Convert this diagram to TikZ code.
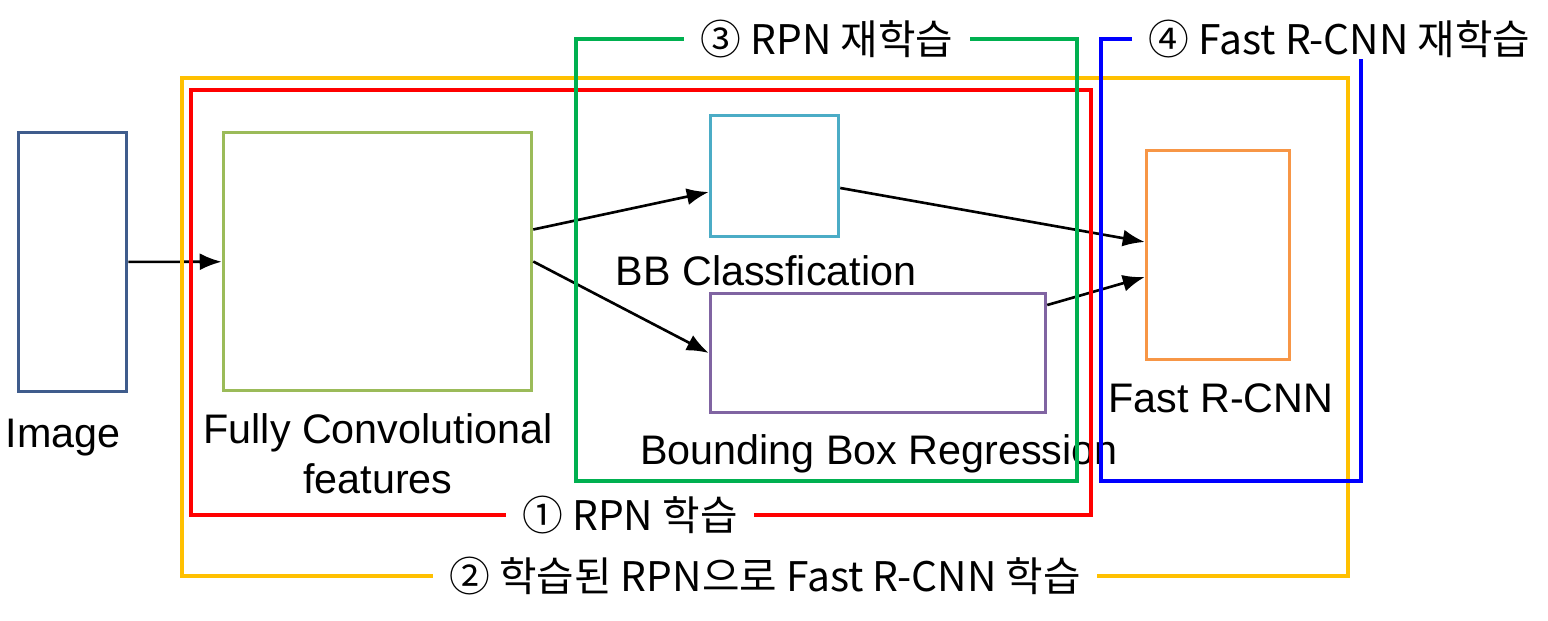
\documentclass[tikz,border=0pt]{standalone}
\usepackage{fontspec}
\setmainfont{Liberation Sans}
\newfontfamily\krfont{Noto Sans CJK KR}
\usetikzlibrary{arrows.meta}
\definecolor{image edge}{HTML}{3F5C8C}
\definecolor{conv edge}{HTML}{9BBB59}
\definecolor{cls edge}{HTML}{4BACC6}
\definecolor{reg edge}{HTML}{8064A2}
\definecolor{frcnn edge}{HTML}{F79646}
\definecolor{stage one}{HTML}{FF0000}
\definecolor{stage two}{HTML}{FFC000}
\definecolor{stage three}{HTML}{00B050}
\definecolor{stage four}{HTML}{0000FF}
\tikzset{box/.style={draw, line width=1pt, inner sep=0pt},
    caption/.style={anchor=base, align=center, font=\fontsize{11.75pt}{14.2pt}\selectfont},
    steplabel/.style={font=\krfont\fontsize{11.6pt}{13pt}\selectfont, inner xsep=1.6mm, inner ysep=0pt},
    frame/.style={line width=1.15pt},
    flow/.style={-{Latex[length=2.2mm,width=1.7mm]}, line width=0.75pt}}

\begin{document}
\begin{tikzpicture}
 \useasboundingbox (0,0) rectangle (15.48,-6.21);

 \node[box, draw=image edge, minimum width=1.08cm, minimum height=2.59cm] (img) at (0.725,-2.62) {};
 \node[box, draw=conv edge, minimum width=3.08cm, minimum height=2.58cm] (fcn) at (3.775,-2.615) {};
 \node[box, draw=cls edge, minimum width=1.28cm, minimum height=1.21cm] (cls) at (7.745,-1.76) {};
 \node[box, draw=reg edge, minimum width=3.35cm, minimum height=1.19cm] (reg) at (8.78,-3.53) {};
 \node[box, draw=frcnn edge, minimum width=1.43cm, minimum height=2.09cm] (frcnn) at (12.18,-2.55) {};

 \node[caption] (imgtext) at (0.63,-4.47) {Image};
 \node[caption] (fcntext) at (3.78,-4.93) {Fully Convolutional\\features};
 \node[caption] (clstext) at (7.66,-2.85) {BB Classfication};
 \node[caption] (regtext) at (8.79,-4.65) {Bounding Box Regression};
 \node[caption] (frcnntext) at (12.21,-4.13) {Fast R-CNN};

 \draw[flow] (img) -- (fcn);
 \draw[flow] ([yshift=3.2mm]fcn.east) -- ([yshift=-1.6mm]cls.west);
 \draw[flow] (fcn.east) -- (reg.west);
 \draw[flow] ([yshift=-1.2mm]cls.east) -- ([yshift=1.3mm]frcnn.west);
 \draw[flow] ([yshift=4.8mm]reg.east) -- ([yshift=-2.2mm]frcnn.west);

 \node[steplabel] (step1) at (6.30,-5.15) {① RPN 학습};
 \node[steplabel] (step2) at (7.65,-5.76) {② 학습된 RPN으로 Fast R-CNN 학습};
 \node[steplabel] (step3) at (8.27,-0.39) {③ RPN 재학습};
 \node[steplabel, anchor=west] (step4) at (11.32,-0.39) {④ Fast R-CNN 재학습};

 \draw[frame, stage two] (step2.west) -| (1.82,-0.78) -| (13.48,-5.76) -- (step2.east);
 \draw[frame, stage one] (step1.west) -| (1.91,-0.90) -| (10.91,-5.15) -- (step1.east);
 \draw[frame, stage three] (step3.west) -| (5.76,-4.81) -| (10.77,-0.39) -- (step3.east);
 \draw[frame, stage four] (step4.west) -| (11.01,-4.81) -| (13.61,-0.59);
 % \node[anchor=north] at (current bounding box.north) {};

\end{tikzpicture}
\end{document}
